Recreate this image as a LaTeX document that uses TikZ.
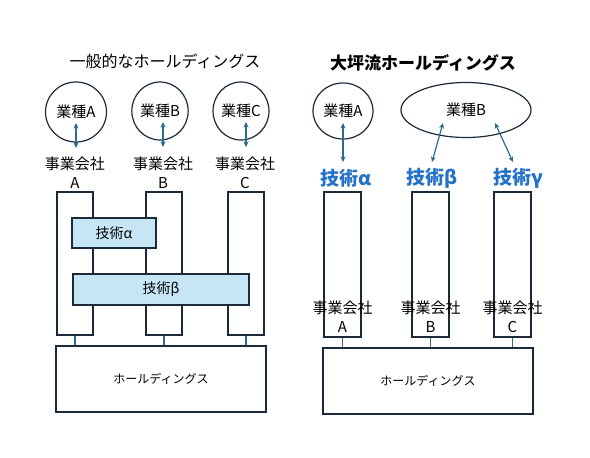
\documentclass[tikz,border=0pt]{standalone}
\usepackage{fontspec}
\setmainfont{Noto Sans CJK JP}
\usetikzlibrary{arrows.meta,shapes.geometric}
\definecolor{navy}{HTML}{1B2A3A}
\definecolor{teal}{HTML}{2A6B8A}
\definecolor{techblue}{HTML}{2472C8}
\definecolor{lightfill}{HTML}{C6E6F5}
\tikzset{
  outline/.style={draw=navy,line width=1.2pt},
  colbox/.style={outline,fill=white,inner sep=0pt},
  techbox/.style={outline,fill=lightfill,inner sep=0pt,font=\fontsize{14}{16}\selectfont},
  bizcircle/.style={outline,ellipse,inner sep=0pt,font=\fontsize{15}{17}\selectfont},
  link/.style={draw=teal,line width=1.2pt},
  twoway/.style={link,{Stealth[length=5.5pt,width=5pt]}-{Stealth[length=5.5pt,width=5pt]}},
  colabel/.style={align=center,font=\fontsize{15}{19}\selectfont,inner sep=0pt},
  techlabel/.style={text=techblue,font=\bfseries\fontsize{19}{21}\selectfont,inner sep=0pt},
  hdbox/.style={outline,fill=white,inner sep=0pt,font=\fontsize{12}{14}\selectfont}
}
\begin{document}
\begin{tikzpicture}[x=1pt,y=-1pt]
\useasboundingbox (0,0) rectangle (590,458);
% ---------------- left panel ----------------
\node[font=\fontsize{16}{18}\selectfont] (ltitle) at (165,61) {一般的なホールディングス};
\node[bizcircle,minimum width=61pt,minimum height=60pt] (lgA) at (76,112) {業種A};
\node[bizcircle,minimum width=53pt,minimum height=58pt] (lgB) at (160,111) {業種B};
\node[bizcircle,minimum width=52pt,minimum height=58pt] (lgC) at (241,111) {業種C};
\node[colabel] (llA) at (75,172.5) {事業会社\\A};
\node[colabel] (llB) at (163,172.5) {事業会社\\B};
\node[colabel] (llC) at (245,172.5) {事業会社\\C};
\coordinate (laA1) at (76,123); \coordinate (laA2) at (76,148);
\coordinate (laB1) at (163,122); \coordinate (laB2) at (163,147);
\coordinate (laC1) at (246,122); \coordinate (laC2) at (246,147);
\draw[twoway] (laA1) -- (laA2);
\draw[twoway] (laB1) -- (laB2);
\draw[twoway] (laC1) -- (laC2);
\node[colbox,minimum width=36pt,minimum height=143pt] (lcA) at (75,263.5) {};
\node[colbox,minimum width=36pt,minimum height=143pt] (lcB) at (164,263.5) {};
\node[colbox,minimum width=36pt,minimum height=143pt] (lcC) at (246,263.5) {};
\node[techbox,minimum width=84pt,minimum height=30pt] (ltA) at (114,233) {技術α};
\node[techbox,minimum width=176pt,minimum height=31pt] (ltB) at (161,289.5) {技術β};
\node[hdbox,minimum width=210pt,minimum height=66pt] (lhd) at (161,379) {ホールディングス};
\draw[link] (lcA.south) -- (lcA.south |- lhd.north);
\draw[link] (lcB.south) -- (lcB.south |- lhd.north);
\draw[link] (lcC.south) -- (lcC.south |- lhd.north);
% ---------------- right panel ----------------
\node[font=\bfseries\fontsize{17}{19}\selectfont] (rtitle) at (423,63) {大坪流ホールディングス};
\node[bizcircle,minimum width=60pt,minimum height=56pt] (rgA) at (343,111) {業種A};
\node[bizcircle,minimum width=130pt,minimum height=55pt] (rgB) at (466,110) {業種B};
\node[techlabel] (rtA) at (346,178) {技術α};
\node[techlabel] (rtB) at (432,178) {技術β};
\node[techlabel] (rtC) at (518,178) {技術γ};
\coordinate (raA1) at (343,123); \coordinate (raA2) at (343,162);
\coordinate (raB1) at (443,123); \coordinate (raB2) at (432,162);
\coordinate (raC1) at (495,123); \coordinate (raC2) at (513,162);
\draw[twoway] (raA1) -- (raA2);
\draw[twoway] (raB1) -- (raB2);
\draw[twoway] (raC1) -- (raC2);
\node[colbox,minimum width=37pt,minimum height=145pt] (rcA) at (342.5,264.5) {};
\node[colbox,minimum width=37pt,minimum height=145pt] (rcB) at (430.5,264.5) {};
\node[colbox,minimum width=37pt,minimum height=145pt] (rcC) at (512.5,264.5) {};
\node[colabel] (rlA) at (342.5,317) {事業会社\\A};
\node[colabel] (rlB) at (430.5,317) {事業会社\\B};
\node[colabel] (rlC) at (512.5,317) {事業会社\\C};
\node[hdbox,minimum width=210pt,minimum height=66pt] (rhd) at (428,381) {ホールディングス};
\draw[link] (rcA.south) -- (rcA.south |- rhd.north);
\draw[link] (rcB.south) -- (rcB.south |- rhd.north);
\draw[link] (rcC.south) -- (rcC.south |- rhd.north);
\end{tikzpicture}
\end{document}
